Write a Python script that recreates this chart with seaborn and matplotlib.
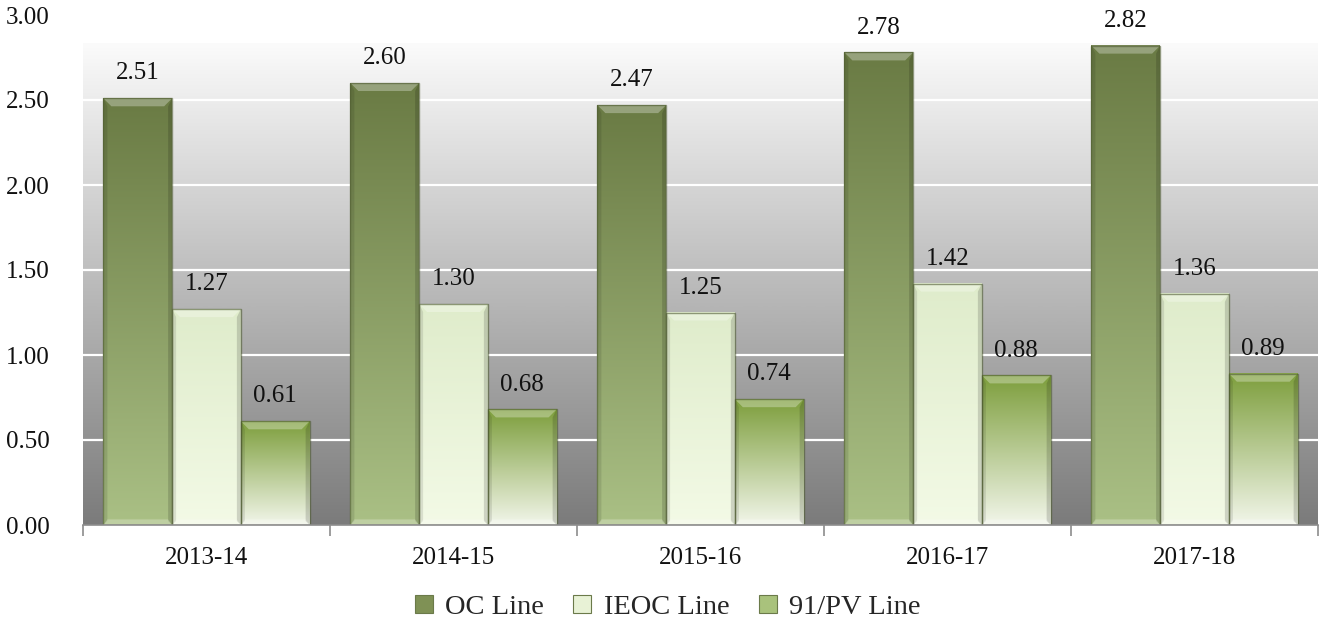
import numpy as np
import pandas as pd
import matplotlib
matplotlib.use("Agg")
import matplotlib.pyplot as plt
from matplotlib.colors import LinearSegmentedColormap
from matplotlib.patches import Polygon
from matplotlib.lines import Line2D
import seaborn as sns

# ---- data ----
years = ["2013-14", "2014-15", "2015-16", "2016-17", "2017-18"]
series = ["OC Line", "IEOC Line", "91/PV Line"]
oc_line = [2.51, 2.60, 2.47, 2.78, 2.82]
ieoc_line = [1.27, 1.30, 1.25, 1.42, 1.36]
pv_line = [0.61, 0.68, 0.74, 0.88, 0.89]
y_ticks = [0.0, 0.5, 1.0, 1.5, 2.0, 2.5, 3.0]

df = pd.DataFrame({
    "year": years * 3,
    "series": [s for s in series for _ in years],
    "value": oc_line + ieoc_line + pv_line,
})

# top / bottom colours of each series' vertical gradient
grad = {
    "OC Line": ("#6a7b44", "#aac085"),
    "IEOC Line": ("#dfeccb", "#f3fae6"),
    "91/PV Line": ("#7d9e3c", "#f2f6ea"),
}
mid = {"OC Line": "#7f9155", "IEOC Line": "#e8f2d6", "91/PV Line": "#a9c27c"}

sns.set_theme(style="white")
plt.rcParams["font.family"] = ["Liberation Serif", "DejaVu Serif"]

W, H, DPI = 1333, 619, 100
fig = plt.figure(figsize=(W / DPI, H / DPI), dpi=DPI)
ax = fig.add_axes([83 / W, 94 / H, (1318 - 83) / W, 510 / H])

sns.barplot(data=df, x="year", y="value", hue="series", hue_order=series,
            order=years, width=0.835, palette=mid, ax=ax, legend=False,
            saturation=1, zorder=2)

XMIN, XMAX, YMAX = -0.5, 4.5, 3.0
px_x = (XMAX - XMIN) / (1318 - 83)
px_y = YMAX / 510

# plot background: grey gradient fading to white near the top
bg_top = 2.83
bg = np.linspace(1, 0, 256).reshape(-1, 1)
bg_cmap = LinearSegmentedColormap.from_list("bg", ["#7b7b7b", "#fbfbfb"])
ax.imshow(bg, cmap=bg_cmap, extent=[XMIN, XMAX, 0, bg_top], aspect="auto",
          zorder=0.1, vmin=0, vmax=1, interpolation="bicubic")

for y in y_ticks[1:-1]:
    ax.axhline(y, color="white", lw=1.6, zorder=0.6)

bev = 8
for name, cont in zip(series, ax.containers):
    cmap = LinearSegmentedColormap.from_list(name, [grad[name][1], grad[name][0]])
    for bar in cont:
        x0 = bar.get_x()
        w = bar.get_width()
        h = bar.get_height()
        x1 = x0 + w
        bar.set_alpha(0)
        g = np.linspace(1, 0, 256).reshape(-1, 1)
        ax.imshow(g, cmap=cmap, extent=[x0, x1, 0, h], aspect="auto",
                  zorder=2, vmin=0, vmax=1, interpolation="bicubic")
        bx, by = bev * px_x, bev * px_y
        top = Polygon([(x0, h), (x1, h), (x1 - bx, h - by), (x0 + bx, h - by)],
                      closed=True, fc="white", alpha=0.30, lw=0, zorder=2.1)
        left = Polygon([(x0, 0), (x0, h), (x0 + bx * 0.5, h - by), (x0 + bx * 0.5, by * 0.5)],
                       closed=True, fc="black", alpha=0.10, lw=0, zorder=2.1)
        right = Polygon([(x1, 0), (x1, h), (x1 - bx * 0.5, h - by), (x1 - bx * 0.5, by * 0.5)],
                        closed=True, fc="black", alpha=0.15, lw=0, zorder=2.1)
        bottom = Polygon([(x0, 0), (x1, 0), (x1 - bx * 0.5, by * 0.7), (x0 + bx * 0.5, by * 0.7)],
                         closed=True, fc="white", alpha=0.25, lw=0, zorder=2.1)
        for p in (top, left, right, bottom):
            ax.add_patch(p)
        ax.add_patch(plt.Rectangle((x0, 0), w, h, fill=False, ec="#4d5a30",
                                   lw=1.0, alpha=0.6, zorder=2.2))
        ax.annotate(f"{h:.2f}", (x0 + w / 2, h), xytext=(0, 10),
                    textcoords="offset points", ha="center", va="bottom",
                    fontsize=18, color="#111111", zorder=3)

ax.set_xlim(XMIN, XMAX)
ax.set_ylim(0, YMAX)
ax.set_yticks(y_ticks)
ax.set_yticklabels([f"{v:.2f}" for v in y_ticks])
ax.set_xticks(range(len(years)))
ax.set_xticklabels(years)
ax.set_xticks(np.arange(-0.5, 5, 1.0), minor=True)
ax.tick_params(axis="x", which="major", length=0, pad=16, labelsize=18,
               labelcolor="#111111")
ax.tick_params(axis="x", which="minor", length=8, width=1.2, color="#8c8c8c",
               direction="out", bottom=True)
ax.tick_params(axis="y", length=0, pad=24, labelsize=18, labelcolor="#111111")
for lab in ax.get_yticklabels():
    lab.set_horizontalalignment("right")
ax.set_xlabel("")
ax.set_ylabel("")
for s in ("top", "right", "left"):
    ax.spines[s].set_visible(False)
ax.spines["bottom"].set_color("#8c8c8c")
ax.spines["bottom"].set_linewidth(1.2)
ax.spines["bottom"].set_zorder(2.5)
ax.grid(False)

handles = [Line2D([], [], marker="s", ls="none", markersize=13,
                  markerfacecolor=mid[s], markeredgecolor="#6b7a4a",
                  markeredgewidth=0.8, label=s) for s in series]
fig.legend(handles=handles, loc="center", bbox_to_anchor=(0.5, 12 / H),
           ncol=3, frameon=False, fontsize=20.5, handlelength=0.8,
           handletextpad=0.35, columnspacing=0.95)

fig.savefig("out.png", dpi=DPI)
